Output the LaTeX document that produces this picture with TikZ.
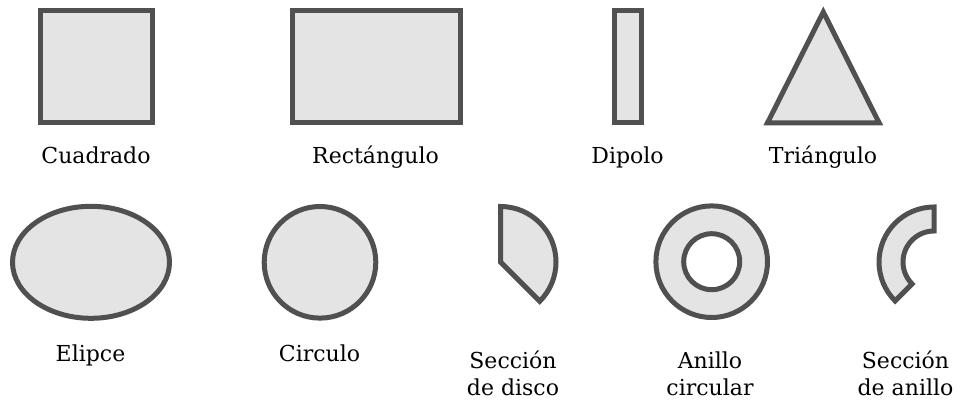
\documentclass[tikz,border=0pt]{standalone}
\usepackage{fontspec}
\setmainfont{DejaVu Serif}
\usetikzlibrary{calc}
\definecolor{shapeline}{HTML}{505050}
\definecolor{shapefill}{HTML}{E4E4E4}
\begin{document}
\begin{tikzpicture}[x=1pt,y=1pt,
    figura/.style={draw=shapeline,fill=shapefill,line width=5pt},
    etiqueta/.style={anchor=base,align=center,font=\fontsize{22}{27}\selectfont}]
            \useasboundingbox (0,0) rectangle (957,402);
            \draw[figura] (40,279) rectangle (152.5,391);
            \draw[figura] (292,279) rectangle (460,391);
            \draw[figura] (614,279) rectangle (641.5,391);
            \draw[figura] (767.4,279) -- (823.3,390) -- (879.2,279) -- cycle;
            \draw[figura] (91,139.7) ellipse [x radius=78.5,y radius=56];
            \draw[figura] (320,139.7) circle [radius=55.8];
            \draw[figura] (500.5,140) -- ++(90:55.5) arc[start angle=90,end angle=-45,radius=55.5] -- cycle;
            \draw[figura,even odd rule] (711.7,140.3) circle [radius=55.8] (711.7,140.3) circle [radius=28];
            \draw[figura] (934,140) ++(90:55) arc[start angle=90,end angle=225,radius=55]
                -- ($(934,140)+(225:31)$) arc[start angle=225,end angle=90,radius=31] -- cycle;
            \node[etiqueta] (cuadrado) at (96,238) {Cuadrado};
            \node[etiqueta] (rectangulo) at (375.5,238) {Rectángulo};
            \node[etiqueta] (dipolo) at (627.5,238) {Dipolo};
            \node[etiqueta] (triangulo) at (823,238) {Triángulo};
            \node[etiqueta] (elipce) at (90.5,41) {Elipce};
            \node[etiqueta] (circulo) at (319.5,41) {Circulo};
            \node[etiqueta] (secdisco) at (513,7) {Sección\\de disco};
            \node[etiqueta] (anillo) at (710,7) {Anillo\\circular};
            \node[etiqueta] (secanillo) at (905.5,7) {Sección\\de anillo};
        \end{tikzpicture}
\end{document}
